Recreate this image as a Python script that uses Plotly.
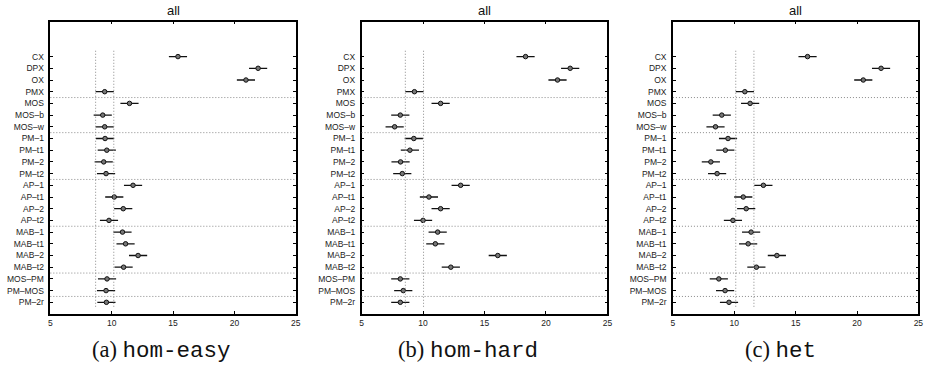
import plotly.graph_objects as go
import numpy as np

# ---------------- data ----------------
methods = ["CX", "DPX", "OX", "PMX", "MOS", "MOS–b", "MOS–w", "PM–1", "PM–t1",
           "PM–2", "PM–t2", "AP–1", "AP–t1", "AP–2", "AP–t2", "MAB–1", "MAB–t1",
           "MAB–2", "MAB–t2", "MOS–PM", "PM–MOS", "PM–2r"]
group_sizes = [4, 3, 4, 4, 4, 2, 1]

hom_easy = [15.40, 21.93, 20.94, 9.43, 11.45, 9.27, 9.43, 9.46, 9.60, 9.35, 9.54,
            11.74, 10.21, 10.94, 9.78, 10.88, 11.13, 12.15, 10.97, 9.62, 9.54, 9.57]
hom_easy_err = [0.74, 0.74, 0.74, 0.74, 0.74, 0.74, 0.74, 0.74, 0.74, 0.74, 0.74,
                0.74, 0.74, 0.74, 0.74, 0.74, 0.74, 0.74, 0.74, 0.74, 0.74, 0.74]

hom_hard = [18.34, 21.97, 20.94, 9.30, 11.43, 8.15, 7.69, 9.25, 8.93, 8.17, 8.31,
            13.06, 10.48, 11.43, 10.00, 11.19, 11.00, 16.08, 12.26, 8.15, 8.39, 8.15]
hom_hard_err = [0.74, 0.74, 0.74, 0.74, 0.74, 0.74, 0.74, 0.74, 0.74, 0.74, 0.74,
                0.74, 0.74, 0.74, 0.74, 0.74, 0.74, 0.74, 0.74, 0.74, 0.74, 0.74]

het = [15.97, 21.96, 20.51, 10.86, 11.29, 8.98, 8.47, 9.49, 9.27, 8.09, 8.60,
       12.37, 10.73, 10.97, 9.89, 11.37, 11.13, 13.47, 11.80, 8.74, 9.25, 9.57]
het_err = [0.74, 0.74, 0.74, 0.74, 0.74, 0.74, 0.74, 0.74, 0.74, 0.74, 0.74,
           0.74, 0.74, 0.74, 0.74, 0.74, 0.74, 0.74, 0.74, 0.74, 0.74, 0.74]

x_ticks = [5, 10, 15, 20, 25]
panel_title = "all"
captions = [("(a)", "hom-easy"), ("(b)", "hom-hard"), ("(c)", "het")]
reference_method = "PMX"

panels = [(hom_easy, hom_easy_err), (hom_hard, hom_hard_err), (het, het_err)]

# ---------------- layout geometry (window pixels) ----------------
W, H = 933, 365
def px(x):
    return x / W
def py(y):
    return 1 - y / H

x_domains = [(48.7, 296.0), (362.3, 610.0), (676.0, 923.3)]
y_top, y_bot = 21.5, 314.0
caption_x = [160.5, 469.5, 784.0]

TICKFONT = dict(family="Liberation Sans, Arial, sans-serif", size=8.5, color="#222")

fig = go.Figure()
idx = list(range(len(methods)))
bounds = np.cumsum(group_sizes)[:-1] - 0.5

for i, (vals, errs) in enumerate(panels):
    n = "" if i == 0 else str(i + 1)
    fig.add_trace(go.Scatter(
        x=vals, y=idx, mode="markers",
        marker=dict(symbol="circle", size=4.5, color="#777",
                    line=dict(color="#111", width=1)),
        error_x=dict(type="data", array=errs, visible=True,
                     color="#111", thickness=1.3, width=0),
        xaxis="x" + n, yaxis="y" + n, showlegend=False,
        hovertemplate="%{x}<extra></extra>",
    ))
    d0, d1 = x_domains[i]
    fig.layout["xaxis" + n] = dict(
        domain=[px(d0), px(d1)], range=[5, 25], anchor="y" + n,
        tickvals=x_ticks, ticks="inside", ticklen=3, tickcolor="black",
        showline=True, linecolor="black", linewidth=1.5, mirror="ticks",
        showgrid=False, zeroline=False, tickfont=TICKFONT,
    )
    fig.layout["yaxis" + n] = dict(
        domain=[py(y_bot), py(y_top)], range=[22, -3], anchor="x" + n,
        tickvals=idx, ticktext=methods, ticks="inside", ticklen=3, tickcolor="black",
        showline=True, linecolor="black", linewidth=1.5, mirror="ticks",
        showgrid=False, zeroline=False, tickfont=TICKFONT, ticklabelstandoff=3,
    )
    # group separators
    for b in bounds:
        fig.add_shape(type="line", xref="x" + n + " domain", yref="y" + n,
                      x0=0, x1=1, y0=b, y1=b,
                      line=dict(color="#8a8a8a", width=1, dash="1px,2px"))
    # reference interval (PMX)
    r = methods.index(reference_method)
    for xv in (vals[r] - errs[r], vals[r] + errs[r]):
        fig.add_shape(type="line", xref="x" + n, yref="y" + n,
                      x0=xv, x1=xv, y0=-0.5, y1=len(methods) - 0.5,
                      line=dict(color="#8a8a8a", width=1, dash="1px,2px"))
    # title
    fig.add_annotation(text=panel_title, xref="paper", yref="paper",
                       x=px((d0 + d1) / 2), y=py(10), xanchor="center", yanchor="middle",
                       showarrow=False,
                       font=dict(family="Liberation Sans, Arial, sans-serif", size=13, color="#111"))
    # caption
    lab, name = captions[i]
    fig.add_annotation(
        text=("<span style='font-family:Liberation Serif, serif'>" + lab + "</span> "
              "<span style='font-family:Liberation Mono, monospace'>" + name + "</span>"),
        xref="paper", yref="paper", x=px(caption_x[i]), y=py(350),
        xanchor="center", yanchor="middle", showarrow=False,
        font=dict(family="Liberation Serif, serif", size=22.5, color="#111"))

fig.update_layout(
    width=W, height=H, margin=dict(l=0, r=0, t=0, b=0),
    paper_bgcolor="white", plot_bgcolor="white",
)

# remove the default page margin so the figure sits at the window origin
fig.write_html("out.html", config={"displayModeBar": False},
               post_script="document.body.style.margin='0';document.body.style.overflow='hidden';")
